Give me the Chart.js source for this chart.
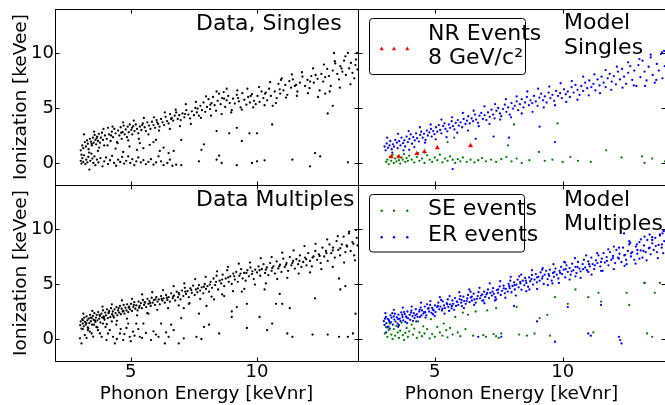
<!DOCTYPE html>
<html>
<head>
<meta charset="utf-8">
<script src="https://cdn.jsdelivr.net/npm/chart.js@4.4.1/dist/chart.umd.min.js"></script>
<style>
  body { margin: 0; background: #fff; width: 665px; height: 405px; overflow: hidden; position: relative; }
  canvas { position: absolute; }
</style>
</head>
<body>
<canvas id="c1" width="359" height="186" style="left:0px;top:0px"></canvas>
<canvas id="c2" width="311" height="186" style="left:354px;top:0px"></canvas>
<canvas id="c3" width="359" height="221" style="left:0px;top:184px"></canvas>
<canvas id="c4" width="311" height="221" style="left:354px;top:184px"></canvas>
<script>
// axes
const xTickVals = [5, 10];
const yTickVals = [0, 5, 10];
const xRange = [2, 14];
const yRange = [-2, 14];
const xTitle = 'Phonon Energy [keVnr]';
const yTitle = 'Ionization [keVee]';

// Data, Singles (black)
const dataSingles = [
  [3.02,1.15],[3.05,0.75],[3.08,1.6],[3.12,1.35],[3.18,1.9],[3.22,1.5],[3.27,2.05],[3.3,1.75],[3.33,1.25],[3.38,2.2],
  [3.42,1.95],[3.46,1.6],[3.5,2.3],[3.53,1.85],[3.57,2.55],[3.6,2.1],[3.63,1.7],[3.67,2.4],[3.7,2.0],[3.74,2.65],
  [3.78,1.85],[3.82,2.3],[3.86,2.75],[3.9,2.1],[3.95,1.6],[3.98,2.5],[4.05,2.2],[4.1,3.2],[4.14,2.6],[4.2,2.0],
  [4.25,2.85],[4.3,2.35],[4.35,3.1],[4.4,2.7],[4.45,1.9],[4.5,2.95],[4.55,2.5],[4.6,3.25],[4.64,2.2],[4.68,2.8],
  [4.72,3.4],[4.76,2.6],[4.8,3.05],[4.85,2.35],[4.88,3.3],[4.92,2.8],[4.96,3.5],[5.02,3.0],[5.06,2.6],[5.1,3.35],
  [5.15,2.9],[5.2,3.5],[5.25,3.1],[5.3,2.7],[5.36,3.3],[5.42,3.0],[5.48,3.6],[5.55,3.25],[5.6,2.9],[5.66,3.7],
  [5.72,3.4],[5.78,3.1],[5.84,3.75],[5.9,3.45],[5.96,3.2],[6.02,3.9],[6.08,3.55],[6.14,3.3],[6.2,4.0],[6.26,3.7],
  [6.32,3.45],[6.38,4.2],[6.44,3.8],[6.5,3.6],[6.56,4.45],[6.62,4.1],[6.68,3.85],[6.74,4.3],[6.8,4.6],[6.86,4.0],
  [6.92,4.35],[6.98,3.9],[7.05,4.5],[7.12,4.15],[7.2,4.8],[7.28,4.4],[7.35,4.05],[7.42,4.7],[7.5,4.35],[7.56,5.0],
  [7.62,4.6],[7.7,4.3],[7.76,5.2],[7.82,4.8],[7.88,5.5],[7.95,4.65],[8.02,5.1],[8.08,5.8],[8.14,4.9],[8.2,5.45],
  [8.26,6.0],[8.32,5.25],[8.38,4.75],[8.44,5.65],[8.5,6.3],[8.56,5.35],[8.62,5.9],[8.68,6.45],[8.74,5.1],[8.8,5.7],
  [8.86,6.1],[8.92,5.45],[8.98,4.6],[9.05,5.85],[9.12,5.4],[9.2,6.2],[9.28,5.6],[9.35,5.05],[9.42,6.35],[9.5,5.75],
  [9.58,5.3],[9.65,6.0],[9.72,5.5],[9.8,6.25],[9.88,5.65],[9.95,5.35],[10.02,6.1],[10.1,5.55],[10.18,6.5],[10.25,5.9],
  [10.32,6.3],[10.4,5.7],[10.48,6.75],[10.55,6.1],[10.62,5.2],[10.7,6.5],[10.78,5.9],[10.85,7.2],[10.92,6.3],[10.98,7.7],
  [11.05,6.6],[11.12,7.1],[11.2,6.2],[11.28,7.45],[11.35,6.85],[11.42,7.6],[11.5,7.0],[11.6,6.5],[11.7,7.3],[11.8,7.85],
  [11.9,7.0],[12.0,7.55],[12.08,6.8],[12.15,7.9],[12.25,7.3],[12.32,8.0],[12.4,7.65],[12.48,6.6],[12.55,8.1],[12.62,7.4],
  [12.7,6.3],[12.78,8.55],[12.85,7.9],[12.92,7.0],[13.0,8.4],[13.05,10.0],[13.1,9.05],[13.18,8.1],[13.25,7.6],[13.3,8.8],
  [13.38,8.3],[13.45,9.3],[13.52,8.0],[13.6,10.0],[13.65,8.6],[13.72,9.1],[13.78,8.2],[13.85,7.7],[13.9,8.9],[13.96,10.0],
  [13.98,8.5],
  [3.15,2.6],[3.35,0.95],[3.55,2.85],[3.75,1.4],[3.92,3.1],[4.08,1.6],[4.28,3.3],[4.48,1.8],[4.7,3.7],[4.9,2.05],
  [5.12,3.85],[5.32,2.2],[5.52,4.1],[5.7,2.6],[5.92,4.15],[6.12,2.95],[6.35,4.6],[6.55,3.1],[6.78,4.85],[6.95,3.35],
  [7.18,5.35],[7.38,3.55],[7.58,5.55],[7.78,4.1],[7.98,6.05],[8.18,4.3],[8.4,6.5],[8.6,4.45],[8.8,6.75],[9.0,4.8],
  [9.22,6.6],[9.4,4.85],[9.62,6.75],[9.85,5.05],[10.08,6.9],[10.3,5.25],[10.52,7.35],[10.75,5.45],[10.95,7.55],[11.15,5.95],
  [11.38,8.05],[11.58,6.1],[11.78,8.25],[12.02,6.35],[12.22,8.6],[12.42,6.0],[12.65,8.95],[12.88,6.5],[13.08,9.25],[13.28,6.85],
  [13.5,9.7],[13.7,7.15],[13.92,9.4],
  [3.45,1.75],[3.65,2.25],[4.22,2.5],[4.62,2.75],[5.05,3.2],[5.45,3.45],[6.05,3.7],[6.6,4.0],[7.15,4.45],[7.65,4.95],
  [8.15,5.3],[8.7,5.85],[9.25,5.9],[9.75,6.1],[10.35,6.4],[10.9,6.7],[11.55,7.1],[12.1,7.4],[12.7,7.8],[13.35,8.6],
  [3.02,0.2],[3.05,-0.05],[3.08,0.45],[3.12,0.1],[3.15,0.7],[3.2,-0.1],[3.24,0.3],[3.28,0.05],[3.32,0.55],[3.36,-0.6],
  [3.4,0.2],[3.44,0.85],[3.48,0.4],[3.52,0.0],[3.56,0.6],[3.6,-0.2],[3.66,0.3],[3.72,0.05],[3.8,0.45],[3.88,-0.3],
  [3.95,0.15],[4.02,0.5],[4.1,-0.1],[4.18,0.25],[4.26,0.65],[4.34,0.0],[4.42,-0.25],[4.5,0.3],[4.58,0.1],[4.66,0.55],
  [4.74,-0.05],[4.82,0.2],[4.9,0.6],[4.98,0.0],[5.06,0.35],[5.14,-0.2],[5.22,0.15],[5.3,0.5],[5.4,0.05],[5.5,0.25],
  [5.6,-0.1],[5.7,0.1],[5.8,0.35],[5.9,-0.15],[6.0,0.05],[6.1,0.6],[6.2,0.15],[6.3,-0.2],[6.45,0.0],[6.55,0.3],
  [6.65,-0.25],[6.8,-0.15],[7.0,-0.2],
  [7.7,0.15],[8.4,0.3],[8.5,0.67],[8.6,0.0],[9.2,-0.2],[9.8,0.0],[10.0,0.15],[10.3,0.24],[11.4,0.3],[12.1,-0.3],
  [12.3,0.9],[12.5,0.6],[13.6,0.06],
  [4.95,1.5],[5.25,1.2],[5.36,1.8],[5.5,1.35],[5.75,1.65],[6.0,2.1],[6.15,1.1],[6.3,1.4],[6.5,0.9],[6.7,1.1],
  [7.0,2.1],[7.8,1.2],[7.9,1.7],[8.4,2.9],[8.9,2.7],[9.2,3.2],[9.4,2.0],[9.7,2.7],[10.0,2.7],[10.6,3.5],
  [12.8,4.5],[13.0,5.2],[4.4,1.3],[4.7,1.0],[3.7,1.1],[5.9,1.9]
];

// Data Multiples (black)
const dataMultiples = [
  [3.0,1.25],[3.02,1.6],[3.05,0.95],[3.08,1.8],[3.1,1.4],[3.14,1.15],[3.16,1.95],[3.19,1.55],[3.22,1.3],[3.25,2.05],
  [3.28,1.7],[3.3,1.05],[3.33,1.85],[3.36,1.45],[3.39,2.2],[3.42,1.62],[3.45,1.9],[3.47,1.3],[3.5,2.1],[3.53,1.75],
  [3.56,2.35],[3.6,1.55],[3.62,1.95],[3.65,2.2],[3.68,1.7],[3.71,2.45],[3.75,1.85],[3.78,2.1],[3.8,1.5],[3.84,2.3],
  [3.87,1.95],[3.9,2.6],[3.93,2.05],[3.96,1.75],[3.99,2.4],[4.02,2.15],[4.06,2.7],[4.09,1.9],[4.12,2.35],[4.15,2.55],
  [4.19,2.0],[4.22,2.8],[4.26,2.25],[4.29,2.5],[4.33,1.95],[4.36,2.7],[4.4,2.35],[4.43,2.9],[4.47,2.15],[4.5,2.6],
  [4.54,2.4],[4.57,3.0],[4.61,2.25],[4.64,2.75],[4.68,2.5],[4.72,3.1],[4.75,2.3],[4.79,2.85],[4.83,2.6],[4.86,3.15],
  [4.9,2.45],[4.94,2.95],[4.97,2.7],[5.01,3.2],[5.05,2.55],[5.1,2.9],[5.14,3.35],[5.18,2.75],[5.22,3.05],[5.27,2.6],
  [5.31,3.4],[5.35,3.0],[5.4,3.25],[5.44,2.8],[5.48,3.55],[5.53,3.1],[5.57,3.3],[5.61,2.9],[5.66,3.65],[5.7,3.2],
  [5.74,3.45],[5.79,3.0],[5.83,3.75],[5.87,3.3],[5.92,3.55],[5.96,3.1],[6.01,3.8],[6.06,3.4],[6.11,3.6],[6.15,3.15],
  [6.2,3.9],[6.25,3.5],[6.3,3.7],[6.35,3.3],[6.4,4.0],[6.45,3.55],[6.5,3.8],[6.55,3.4],[6.6,4.15],[6.66,3.7],
  [6.71,3.95],[6.76,3.5],[6.82,4.3],[6.87,3.8],[6.92,4.05],[6.97,3.6],[7.03,4.4],[7.08,3.9],[7.14,4.65],[7.19,4.1],
  [7.25,4.35],[7.3,3.8],[7.36,4.6],[7.42,4.2],[7.47,4.85],[7.53,4.0],[7.58,4.5],[7.64,4.25],[7.7,4.9],[7.75,4.4],
  [7.81,4.7],[7.87,4.15],[7.93,5.0],[7.98,4.55],[8.04,4.8],[8.1,4.3],[8.16,5.2],[8.22,4.65],[8.28,5.5],[8.34,4.9],
  [8.4,5.75],[8.46,4.5],[8.52,5.3],[8.58,5.05],[8.64,5.85],[8.7,4.8],[8.76,5.5],[8.82,6.25],[8.88,5.2],[8.94,5.7],
  [9.0,5.0],[9.06,5.95],[9.12,5.4],[9.18,6.1],[9.24,5.2],[9.3,5.75],[9.37,6.35],[9.43,5.5],[9.49,6.0],[9.55,5.3],
  [9.62,6.25],[9.68,5.7],[9.74,6.5],[9.8,5.9],[9.87,5.45],[9.93,6.3],[10.0,6.05],[10.06,6.6],[10.13,5.75],[10.19,6.35],
  [10.26,6.8],[10.32,6.0],[10.39,6.5],[10.45,5.8],[10.52,6.9],[10.58,6.2],[10.65,6.6],[10.71,5.95],[10.78,7.05],[10.84,6.4],
  [10.91,6.75],[10.97,6.1],[11.04,7.3],[11.1,6.55],[11.17,6.9],[11.23,6.2],[11.3,7.45],[11.36,6.7],[11.43,7.1],[11.5,6.4],
  [11.56,7.25],[11.63,6.8],[11.7,7.6],[11.76,6.55],[11.83,7.0],[11.9,7.4],[11.96,6.7],[12.03,7.8],[12.1,7.1],[12.17,6.6],
  [12.24,7.5],[12.31,8.0],[12.38,7.2],[12.45,7.7],[12.52,6.9],[12.59,8.3],[12.66,7.5],[12.73,8.0],[12.8,7.1],[12.87,8.6],
  [12.94,7.8],[13.01,8.3],[13.08,7.4],[13.15,8.9],[13.22,8.1],[13.29,7.6],[13.36,8.6],[13.43,9.3],[13.5,7.9],[13.57,8.4],
  [13.64,9.6],[13.71,8.0],[13.78,8.8],[13.85,7.6],[13.92,9.9],[13.98,8.5],[13.95,9.2],
  [3.12,2.3],[3.3,0.8],[3.48,2.55],[3.68,1.05],[3.88,2.95],[4.05,1.35],[4.25,3.15],[4.45,1.65],[4.65,3.5],[4.85,1.85],
  [5.05,3.65],[5.25,2.15],[5.45,4.05],[5.65,2.35],[5.85,4.25],[6.05,2.65],[6.28,4.45],[6.48,2.8],[6.7,4.8],[6.9,3.05],
  [7.12,5.05],[7.33,3.25],[7.55,5.45],[7.75,3.65],[7.97,5.65],[8.2,3.85],[8.42,6.15],[8.62,4.05],[8.85,6.55],[9.05,4.35],
  [9.28,6.85],[9.5,4.55],[9.72,6.95],[9.92,4.95],[10.15,7.35],[10.35,5.05],[10.58,7.45],[10.8,5.45],[11.0,7.85],[11.2,5.55],
  [11.45,8.05],[11.65,5.95],[11.88,8.45],[12.1,6.05],[12.32,8.65],[12.55,6.35],[12.78,9.05],[13.0,6.55],[13.2,9.35],[13.45,6.95],
  [13.65,9.75],[13.88,7.15],
  [3.11,1.7],[3.24,1.45],[3.41,1.95],[3.58,1.7],[3.76,2.2],[3.94,1.9],[4.13,2.45],[4.31,2.1],[4.52,2.8],[4.71,2.55],
  [4.92,2.85],[5.12,3.1],[5.33,2.85],[5.55,3.35],[5.77,3.25],[5.98,3.6],[6.22,3.65],[6.43,3.75],[6.68,3.85],[6.9,4.2],
  [7.16,4.3],[7.4,4.45],[7.66,4.6],[7.9,4.75],[8.13,4.95],[8.38,5.2],[8.62,5.4],[8.86,5.6],[9.1,5.7],[9.35,5.95],
  [9.58,6.0],[9.82,6.15],[10.1,6.25],[10.35,6.3],[10.6,6.45],[10.88,6.6],[11.15,6.75],[11.4,6.9],[11.68,7.1],[11.95,7.25],
  [12.2,7.4],[12.48,7.55],[12.75,7.8],[13.0,8.05],[13.3,8.25],[13.55,8.5],[13.82,8.65],
  [2.99,0.06],[3.05,-0.4],[3.18,0.36],[3.32,0.97],[3.38,0.67],[3.51,0.21],[3.64,1.1],[3.78,0.5],[3.9,1.4],[4.04,-0.1],
  [4.17,0.8],[4.3,0.2],[4.37,-0.4],[4.43,1.3],[4.57,0.5],[4.7,-0.1],[4.83,1.0],[4.96,0.2],[5.09,0.67],[5.22,1.4],
  [5.36,0.2],[3.1,0.9],[3.25,0.1],[3.45,0.5],[3.55,1.3],[3.7,0.8],[3.85,0.2],[4.0,1.1],[4.1,0.5],[4.25,1.6],
  [4.45,0.0],[4.6,0.9],[4.75,0.45],[4.9,1.4],[5.0,-0.2],[5.15,0.3],[5.3,0.9],[5.45,0.1],[5.6,0.55],[5.8,-0.1],
  [6.1,0.2],[6.4,0.6],
  [5.5,1.4],[5.7,2.3],[5.9,0.7],[6.0,0.4],[6.2,1.4],[6.35,-0.4],[6.5,0.2],[6.6,1.3],[6.9,-0.4],[6.7,0.8],
  [7.1,0.06],[7.6,0.2],[7.8,0.0],[7.0,1.9],[7.1,2.8],[7.7,2.3],[7.9,1.1],[8.1,1.3],[8.5,0.5],[9.0,2.0],
  [9.0,2.5],[9.2,2.9],[9.6,3.2],[9.6,1.0],[10.1,2.0],[10.4,0.8],[10.6,1.4],[10.75,3.2],[11.0,3.2],[11.2,0.5],
  [11.3,2.8],[11.4,0.2],[12.2,0.4],[12.3,3.7],[12.8,0.4],[13.25,5.5],[13.25,0.2],[13.3,4.5],[13.5,4.8],[13.8,0.5],
  [13.9,2.3],[13.6,0.2],[7.3,3.2],[8.3,3.6],[8.7,3.9],[9.4,4.3],[8.0,3.0],[10.3,4.5],[10.9,4.1]
];

// Model Singles
const singlesER = [
  [3.04,1.5],[3.08,1.15],[3.12,1.78],[3.17,1.38],[3.23,1.6],[3.26,2.0],[3.32,1.25],[3.37,1.7],[3.41,1.48],[3.46,2.1],
  [3.52,1.85],[3.55,1.35],[3.61,1.98],[3.66,1.6],[3.7,2.3],[3.76,1.8],[3.81,2.05],[3.84,1.5],[3.9,2.4],[3.95,1.9],
  [4.01,2.18],[4.06,2.6],[4.11,1.75],[4.16,2.35],[4.22,2.05],[4.27,2.7],[4.31,2.25],[4.38,1.95],[4.43,2.55],[4.47,2.85],
  [4.53,2.3],[4.58,2.65],[4.64,2.1],[4.69,2.95],[4.73,2.5],[4.79,2.78],[4.85,3.1],[4.88,2.4],[4.94,2.9],[4.99,2.62],
  [5.05,3.25],[5.1,2.85],[5.16,3.45],[5.21,3.0],[5.26,2.7],[5.33,3.35],[5.38,3.6],[5.42,3.1],[5.49,2.88],[5.55,3.5],
  [5.6,3.2],[5.66,3.8],[5.71,3.35],[5.77,3.05],[5.82,3.65],[5.9,3.9],[5.94,3.4],[6.01,3.7],[6.07,3.25],[6.13,4.0],
  [6.2,3.55],[6.26,3.85],[6.31,4.25],[6.37,3.6],[6.44,4.05],[6.5,3.8],[6.57,4.4],[6.62,3.95],[6.69,3.65],[6.75,4.3],
  [6.82,4.55],[6.88,4.0],[6.95,4.35],[7.02,3.9],[7.08,4.6],[7.15,4.2],[7.22,4.85],[7.28,4.4],[7.34,4.05],[7.41,4.75],
  [7.48,5.0],[7.55,4.5],[7.6,4.25],[7.67,4.9],[7.74,5.3],[7.8,4.65],[7.87,5.05],[7.93,4.4],[8.0,5.45],[8.06,4.95],
  [8.13,5.2],[8.2,5.6],[8.26,4.8],[8.33,5.35],[8.4,5.8],[8.47,5.05],[8.53,5.5],[8.6,6.0],[8.68,5.25],[8.74,5.7],
  [8.81,5.45],[8.88,6.1],[8.95,5.6],[9.02,5.2],[9.09,5.95],[9.16,6.3],[9.23,5.7],[9.3,6.05],[9.37,5.5],[9.45,6.4],
  [9.52,5.9],[9.6,6.2],[9.67,5.65],[9.74,6.55],[9.82,6.1],[9.9,6.35],[9.97,5.9],[10.05,6.7],[10.12,6.25],[10.2,6.5],
  [10.28,6.0],[10.35,6.9],[10.43,6.4],[10.5,7.1],[10.58,6.65],[10.66,6.2],[10.73,7.0],[10.8,6.55],[10.88,7.3],[10.96,6.8],
  [11.04,7.5],[11.12,6.9],[11.2,7.2],[11.28,6.6],[11.36,7.6],[11.44,7.05],[11.52,7.85],[11.6,7.3],[11.68,6.9],[11.76,7.7],
  [11.84,8.1],[11.92,7.4],[12.0,7.9],[12.08,7.15],[12.16,8.3],[12.24,7.6],[12.32,8.55],[12.4,7.85],[12.48,7.2],[12.56,8.2],
  [12.64,8.8],[12.72,7.55],[12.8,8.4],[12.88,7.0],[12.96,8.9],[13.04,7.8],[13.12,9.3],[13.2,8.3],[13.28,7.5],[13.36,8.75],
  [13.44,9.6],[13.52,8.0],[13.6,7.3],[13.68,9.0],[13.76,8.4],[13.84,9.9],[13.9,7.7],[13.96,10.2],[13.99,8.8],
  [3.14,2.3],[3.34,0.95],[3.56,2.65],[3.78,1.15],[3.98,2.9],[4.2,1.45],[4.42,3.25],[4.62,1.85],[4.84,3.5],[5.04,2.15],
  [5.26,3.95],[5.46,2.35],[5.68,4.15],[5.88,2.75],[6.1,4.55],[6.3,2.95],[6.52,4.75],[6.72,3.35],[6.94,5.15],[7.14,3.55],
  [7.36,5.35],[7.56,3.95],[7.78,5.8],[7.98,4.15],[8.2,6.05],[8.4,4.5],[8.62,6.5],[8.82,4.65],[9.04,6.75],[9.26,5.05],
  [9.48,6.95],[9.7,5.25],[9.92,7.25],[10.14,5.55],[10.36,7.45],[10.58,5.75],[10.8,7.85],[11.02,6.15],[11.24,8.05],[11.46,6.35],
  [11.68,8.45],[11.9,6.65],[12.12,8.75],[12.34,6.85],[12.56,9.15],[12.78,7.05],[13.0,9.45],[13.22,7.0],[13.44,9.85],[13.66,7.55],
  [13.88,10.05],
  [5.7,-0.55],[7.3,2.4],[7.9,2.3],[9.1,3.3],[9.7,1.9],[4.0,1.2],[6.6,2.2]
];
const singlesSE = [
  [3.1,0.1],[3.15,0.3],[3.2,-0.1],[3.25,0.55],[3.3,0.2],[3.35,0.75],[3.4,0.0],[3.45,0.4],[3.5,0.15],[3.55,0.6],
  [3.6,0.25],[3.65,-0.05],[3.7,0.5],[3.75,0.3],[3.8,0.8],[3.85,0.1],[3.9,0.45],[3.95,0.2],[4.0,0.65],[4.1,0.3],
  [4.2,0.05],[4.3,0.55],[4.35,0.9],[4.4,0.2],[4.5,0.4],[4.6,0.0],[4.7,0.7],[4.8,0.3],[4.9,0.1],[5.0,0.5],
  [5.1,0.25],[5.2,0.75],[5.3,0.05],[5.4,0.4],[5.5,0.2],[5.6,0.6],[5.7,0.3],[5.8,0.0],[5.9,0.35],[6.0,0.15],
  [6.1,0.5],[6.25,0.1],[6.4,0.3],[6.55,0.05],[6.7,0.25],[6.85,0.45],[7.0,0.15],[7.2,0.3],[7.4,0.1],[7.6,0.35],
  [7.8,0.55],[8.0,0.15],[8.2,0.4],[8.4,0.0],[8.7,0.25],[9.07,1.0],[9.3,0.2],[9.6,0.3],[10.0,0.1],[10.3,0.55],
  [10.6,0.2],[11.1,0.1],[11.7,1.15],[12.3,0.5],[13.1,0.6],[13.2,0.0],[13.5,0.4],[14.0,0.15],
  [5.76,2.3],[8.1,3.5],[9.8,3.6],[7.86,1.6],[5.5,1.9],[4.6,0.95]
];
const singlesNR = [[3.3,0.57],[3.6,0.57],[4.3,0.85],[4.6,1.03],[5.1,1.39],[6.4,1.57]];

// Model Multiples
const multiplesER = [
  [3.01,1.62],[3.04,1.28],[3.09,2.01],[3.11,1.45],[3.16,1.83],[3.19,1.12],[3.21,1.71],[3.27,2.15],[3.29,1.52],[3.31,1.94],
  [3.36,1.3],[3.42,1.77],[3.44,2.3],[3.47,1.58],[3.52,1.96],[3.55,1.4],[3.58,2.21],[3.63,1.85],[3.66,1.62],[3.69,2.42],
  [3.74,1.98],[3.77,1.7],[3.83,2.27],[3.85,1.55],[3.88,2.05],[3.93,2.5],[3.96,1.88],[4.02,2.2],[4.04,1.74],[4.09,2.58],
  [4.13,2.08],[4.18,2.35],[4.21,1.9],[4.26,2.71],[4.3,2.25],[4.33,2.02],[4.39,2.49],[4.45,2.86],[4.48,2.14],[4.5,2.6],
  [4.56,2.31],[4.61,2.95],[4.63,2.43],[4.67,2.15],[4.74,2.75],[4.78,2.5],[4.82,3.1],[4.87,2.38],[4.9,2.82],[4.96,2.6],
  [5.01,3.05],[5.03,2.45],[5.09,2.9],[5.14,3.3],[5.17,2.7],[5.22,2.95],[5.28,2.58],[5.31,3.42],[5.36,3.05],[5.4,2.8],
  [5.47,3.25],[5.51,3.6],[5.53,2.92],[5.6,3.15],[5.66,2.78],[5.69,3.5],[5.72,3.2],[5.79,3.72],[5.83,3.0],[5.88,3.38],
  [5.92,3.1],[5.97,3.62],[6.03,3.3],[6.06,2.98],[6.12,3.85],[6.15,3.45],[6.21,3.2],[6.27,3.68],[6.3,4.0],[6.36,3.35],
  [6.41,3.78],[6.45,3.5],[6.52,4.12],[6.55,3.6],[6.6,3.3],[6.68,3.9],[6.71,4.25],[6.77,3.7],[6.81,3.95],[6.86,3.48],
  [6.93,4.3],[6.97,3.82],[7.02,4.05],[7.08,4.5],[7.12,3.72],[7.17,4.2],[7.23,3.95],[7.28,4.62],[7.31,4.1],[7.37,3.8],
  [7.43,4.45],[7.47,4.2],[7.54,4.78],[7.58,4.0],[7.63,4.38],[7.69,4.85],[7.74,4.15],[7.78,4.55],[7.85,4.3],[7.89,5.0],
  [7.93,4.62],[8.0,4.25],[8.04,4.82],[8.1,5.15],[8.13,4.5],[8.19,4.95],[8.24,5.4],[8.28,4.7],[8.35,5.05],[8.39,4.48],
  [8.44,5.3],[8.5,4.88],[8.53,5.55],[8.58,5.1],[8.65,4.75],[8.69,5.6],[8.73,5.25],[8.8,5.82],[8.84,4.95],[8.9,5.4],
  [8.95,5.9],[8.99,5.15],[9.05,5.65],[9.1,5.3],[9.14,6.05],[9.2,5.5],[9.26,5.0],[9.3,5.85],[9.35,6.2],[9.41,5.45],
  [9.47,5.75],[9.5,6.3],[9.57,5.3],[9.62,6.0],[9.66,5.65],[9.72,6.4],[9.77,5.85],[9.83,5.5],[9.88,6.2],[9.94,6.55],
  [9.98,5.9],[10.04,6.3],[10.1,5.6],[10.15,6.7],[10.2,6.1],[10.27,6.45],[10.31,5.85],[10.37,6.85],[10.42,6.25],[10.5,6.55],
  [10.54,6.0],[10.6,7.0],[10.66,6.4],[10.7,6.15],[10.78,6.8],[10.83,7.2],[10.88,6.5],[10.95,6.25],[11.0,7.05],[11.06,6.6],
  [11.12,7.4],[11.17,6.8],[11.23,6.35],[11.3,7.15],[11.36,6.9],[11.4,7.6],[11.47,6.6],[11.53,7.3],[11.6,7.8],[11.65,6.95],
  [11.72,7.45],[11.79,6.7],[11.85,7.9],[11.9,7.2],[11.97,7.55],[12.05,6.9],[12.1,8.1],[12.16,7.4],[12.22,7.75],[12.3,7.0],
  [12.36,8.3],[12.41,7.6],[12.48,7.2],[12.55,8.0],[12.6,8.6],[12.67,7.5],[12.72,7.9],[12.8,7.2],[12.86,8.4],[12.92,7.75],
  [13.0,8.8],[13.05,8.05],[13.12,7.4],[13.18,8.5],[13.25,7.9],[13.31,9.0],[13.37,8.25],[13.44,7.7],[13.5,8.7],[13.56,8.1],
  [13.62,9.2],[13.68,7.9],[13.75,8.55],[13.8,9.4],[13.87,8.3],[13.93,7.8],[13.97,8.9],
  [3.14,1.05],[3.34,2.35],[3.6,1.25],[3.8,2.45],[4.15,1.65],[4.42,2.0],[4.7,3.15],[4.93,2.25],[5.25,3.55],[5.56,2.55],
  [6.0,3.9],[6.4,4.3],[6.9,3.5],[7.4,3.6],[7.95,5.3],[8.3,5.7],[8.7,4.5],[9.2,6.3],[9.6,5.05],[10.1,6.95],
  [10.5,5.7],[11.0,6.1],[11.5,6.2],[12.0,8.4],[12.5,6.8],[13.0,7.3],[13.4,9.5],[13.9,9.6],
  [3.07,2.35],[3.24,0.95],[3.4,2.65],[3.57,1.1],[3.75,2.85],[3.92,1.45],[4.1,2.95],[4.28,1.6],[4.46,3.3],[4.64,1.95],
  [4.83,3.45],[5.0,2.1],[5.2,3.8],[5.38,2.3],[5.58,3.9],[5.76,2.65],[5.96,4.25],[6.14,2.8],[6.35,4.5],[6.54,3.1],
  [6.75,4.65],[6.94,3.25],[7.15,5.05],[7.35,3.5],[7.56,5.25],[7.76,3.75],[7.97,5.65],[8.17,3.95],[8.38,5.85],[8.58,4.35],
  [8.8,6.25],[9.0,4.55],[9.22,6.45],[9.42,4.9],[9.64,6.8],[9.85,5.1],[10.06,7.0],[10.27,5.4],[10.48,7.35],[10.7,5.55],
  [10.92,7.6],[11.13,5.85],[11.35,7.8],[11.56,6.2],[11.78,8.15],[12.0,6.35],[12.2,8.3],[12.42,6.65],[12.64,8.75],[12.85,6.85],
  [13.06,9.05],[13.28,7.15],[13.5,9.25],[13.72,7.35],[13.94,9.85],
  [3.05,1.85],[3.23,1.55],[3.4,2.05],[3.57,1.8],[3.73,2.2],[3.9,1.95],[4.07,2.4],[4.24,2.15],[4.41,2.65],[4.58,2.45],
  [4.76,2.8],[4.93,2.65],[5.12,3.0],[5.3,2.75],[5.49,3.15],[5.67,3.0],[5.86,3.4],[6.05,3.55],[6.25,3.45],[6.45,3.85],
  [6.65,3.65],[6.86,4.05],[7.05,4.2],[7.26,4.3],[7.48,4.5],[7.7,4.6],[7.91,4.8],[8.12,4.9],[8.34,5.2],[8.56,5.3],
  [8.78,5.45],[9.0,5.6],[9.22,5.7],[9.45,5.9],[9.68,6.1],[9.9,6.0],[10.12,6.35],[10.35,6.15],[10.58,6.55],[10.8,6.35],
  [11.03,6.8],[11.26,6.7],[11.5,7.0],[11.73,7.1],[11.96,7.35],[12.2,7.3],[12.44,7.65],[12.68,7.8],[12.92,8.1],[13.16,8.0],
  [13.4,8.3],[13.64,8.45],[13.88,8.6],
  [12.4,9.6],[12.6,8.9],[13.2,9.3],[13.5,9.0],[13.8,9.5],[13.95,9.8],[12.9,8.6],
  [3.1,0.6],[6.7,0.2],[7.6,0.2],[9.7,-0.25],[11.0,0.5],[12.2,0.2],[12.3,-0.4],[12.25,-0.1],[10.2,2.9],[11.5,3.1],
  [13.2,5.1],[11.1,0.3],[9.0,1.6],[8.1,3.0]
];
const multiplesSE = [
  [3.05,0.5],[3.1,1.1],[3.15,0.2],[3.2,0.8],[3.25,1.4],[3.3,0.4],[3.35,0.0],[3.4,0.9],[3.45,0.3],[3.5,1.2],
  [3.55,0.6],[3.6,0.1],[3.65,0.75],[3.7,1.5],[3.75,0.35],[3.8,-0.1],[3.85,0.55],[3.9,1.0],[3.95,0.2],[4.0,0.7],
  [4.1,1.3],[4.15,0.4],[4.2,0.95],[4.3,0.1],[4.35,1.6],[4.4,0.6],[4.5,0.25],[4.55,1.15],[4.6,0.5],[4.7,0.9],
  [4.8,0.05],[4.85,1.8],[4.9,0.45],[5.0,0.2],[5.1,1.1],[5.2,0.6],[5.3,0.3],[5.35,1.4],[5.45,0.8],[5.5,0.15],
  [5.6,1.0],[5.7,0.4],[5.8,2.0],[5.9,0.6],[6.0,0.25],[6.1,2.4],[6.2,0.9],[6.3,2.2],[6.5,0.3],[6.6,2.5],
  [6.9,0.35],[7.0,0.2],[7.3,0.45],[7.4,0.25],[7.5,0.1],[7.6,0.5],[7.05,2.6],[7.4,2.8],[8.3,0.4],[8.6,0.3],
  [8.9,0.5],[9.1,1.9],[9.4,2.2],[9.5,0.3],[9.7,3.8],[10.5,4.5],[11.0,3.8],[11.2,0.6],[11.4,4.2],[12.5,4.2],
  [12.6,3.1],[13.2,5.1],[13.3,0.5],[13.5,0.2],[13.6,4.2],[13.8,5.1],[11.5,3.4],[10.2,3.2],[8.2,2.9]
];

const FONT = 'DejaVu Sans';
Chart.defaults.font.family = FONT;
Chart.defaults.color = '#000';

const pts = arr => arr.map(p => ({ x: p[0], y: p[1] }));

function dots(arr, color) {
  return { data: pts(arr), backgroundColor: color, borderWidth: 0, pointRadius: 1.15, pointStyle: 'circle' };
}

// box + inner ticks on all four sides
const framePlugin = {
  id: 'frame',
  afterDatasetsDraw(chart) {
    const { ctx, chartArea: a, scales } = chart;
    const L = Math.round(a.left) + 0.5, R = Math.round(a.right) + 0.5;
    const T = Math.round(a.top) + 0.5, B = Math.round(a.bottom) + 0.5;
    ctx.save();
    ctx.strokeStyle = '#000';
    ctx.lineWidth = 1;
    ctx.strokeRect(L, T, R - L, B - T);
    ctx.beginPath();
    yTickVals.forEach(v => {
      const py = Math.round(scales.y.getPixelForValue(v)) + 0.5;
      ctx.moveTo(L, py); ctx.lineTo(L + 4, py);
      ctx.moveTo(R, py); ctx.lineTo(R - 4, py);
    });
    xTickVals.forEach(v => {
      const px = Math.round(scales.x.getPixelForValue(v)) + 0.5;
      ctx.moveTo(px, B); ctx.lineTo(px, B - 4);
      ctx.moveTo(px, T); ctx.lineTo(px, T + 4);
    });
    ctx.stroke();
    ctx.restore();
  }
};

function marker(ctx, style, x, y, r) {
  ctx.beginPath();
  if (style === 'triangle') {
    ctx.moveTo(x, y - r);
    ctx.lineTo(x + r * 0.866, y + r * 0.5);
    ctx.lineTo(x - r * 0.866, y + r * 0.5);
    ctx.closePath();
  } else {
    ctx.arc(x, y, r, 0, Math.PI * 2);
  }
  ctx.fill();
}

function textPlugin(p) {
  return {
    id: 'panelText',
    afterDraw(chart) {
      const ctx = chart.ctx;
      ctx.save();
      ctx.font = '22px "' + FONT + '"';
      ctx.textAlign = 'left';
      ctx.textBaseline = 'alphabetic';
      ctx.fillStyle = '#000';
      p.title.forEach((t, i) => ctx.fillText(t, p.tx, p.ty + i * p.step));
      if (p.legend) {
        const g = p.legend;
        const x0 = g.box[0], y0 = g.box[1], x1 = g.box[2], y1 = g.box[3], r = 3;
        ctx.beginPath();
        ctx.moveTo(x0 + r, y0);
        ctx.arcTo(x1, y0, x1, y1, r);
        ctx.arcTo(x1, y1, x0, y1, r);
        ctx.arcTo(x0, y1, x0, y0, r);
        ctx.arcTo(x0, y0, x1, y0, r);
        ctx.closePath();
        ctx.fillStyle = '#fff';
        ctx.fill();
        ctx.strokeStyle = '#000';
        ctx.lineWidth = 1;
        ctx.stroke();
        g.items.forEach(it => {
          ctx.fillStyle = it.color;
          g.mx.forEach(mx => marker(ctx, it.style, mx, it.my, it.r));
          ctx.fillStyle = '#000';
          it.text.forEach((t, i) => ctx.fillText(t, g.tx, it.ty + i * 24.3));
        });
      }
      ctx.restore();
    }
  };
}

// fixed box sizes, no label overhang padding so the four plot frames line up
function fixX(h) {
  return s => { s.height = h; s.paddingLeft = 0; s.paddingRight = 0; s.paddingTop = 0; s.paddingBottom = 0; };
}
function fixY(w) {
  return s => { s.width = w; s.paddingLeft = 0; s.paddingRight = 0; s.paddingTop = 0; s.paddingBottom = 0; };
}

function panel(id, datasets, cfg) {
  return new Chart(document.getElementById(id), {
    type: 'scatter',
    data: { datasets },
    options: {
      responsive: false,
      animation: false,
      devicePixelRatio: 1,
      events: [],
      layout: { padding: cfg.pad, autoPadding: false },
      plugins: { legend: { display: false }, tooltip: { enabled: false } },
      scales: {
        x: {
          type: 'linear', min: xRange[0], max: xRange[1],
          afterBuildTicks: s => { s.ticks = xTickVals.map(v => ({ value: v })); },
          afterFit: fixX(cfg.xh),
          grid: { display: false, drawTicks: false },
          border: { display: false },
          ticks: { display: cfg.xLab, padding: 1, font: { size: 18 }, color: '#000' },
          title: { display: cfg.xLab, text: xTitle, font: { size: 18.5 }, color: '#000', padding: { top: 0, bottom: 0 } }
        },
        y: {
          type: 'linear', min: yRange[0], max: yRange[1],
          afterBuildTicks: s => { s.ticks = yTickVals.map(v => ({ value: v })); },
          afterFit: fixY(cfg.yw),
          grid: { display: false, drawTicks: false },
          border: { display: false },
          ticks: { display: cfg.yLab, padding: 1, font: { size: 18 }, color: '#000' },
          title: { display: cfg.yLab, text: yTitle, font: { size: 18.5 }, color: '#000', padding: { top: 10, bottom: 0 } }
        }
      }
    },
    plugins: [framePlugin, textPlugin(cfg.text)]
  });
}

panel('c1', [dots(dataSingles, '#000')], {
  pad: { top: 9, right: 1, bottom: 1, left: 0 }, xh: 0, yw: 55, xLab: false, yLab: true,
  text: { title: ['Data, Singles'], tx: 196, ty: 30, step: 25 }
});

panel('c2', [
  { data: pts(singlesNR), backgroundColor: '#ff0000', borderWidth: 0, pointRadius: 2.9, pointStyle: 'triangle' },
  dots(singlesSE, '#008000'),
  dots(singlesER, '#0000ff')
], {
  pad: { top: 9, right: 0, bottom: 1, left: 0 }, xh: 0, yw: 4, xLab: false, yLab: false,
  text: {
    title: ['Model', 'Singles'], tx: 210, ty: 29.3, step: 25,
    legend: {
      box: [15.5, 18.5, 171.5, 74.5], mx: [27.7, 40, 53.3], tx: 74,
      items: [{ style: 'triangle', color: '#ff0000', r: 2.4, my: 49, text: ['NR Events', '8 GeV/c²'], ty: 40 }]
    }
  }
});

panel('c3', [dots(dataMultiples, '#000')], {
  pad: { top: 1, right: 1, bottom: 0, left: 0 }, xh: 44, yw: 55, xLab: true, yLab: true,
  text: { title: ['Data Multiples'], tx: 196, ty: 22, step: 25 }
});

panel('c4', [
  dots(multiplesSE, '#008000'),
  dots(multiplesER, '#0000ff')
], {
  pad: { top: 1, right: 0, bottom: 0, left: 0 }, xh: 44, yw: 4, xLab: true, yLab: false,
  text: {
    title: ['Model', 'Multiples'], tx: 210, ty: 21.7, step: 24.5,
    legend: {
      box: [15.5, 10.5, 170.5, 68], mx: [27.7, 40, 53.3], tx: 74,
      items: [
        { style: 'circle', color: '#008000', r: 1.2, my: 26.7, text: ['SE events'], ty: 31.3 },
        { style: 'circle', color: '#0000ff', r: 1.2, my: 53.3, text: ['ER events'], ty: 57.3 }
      ]
    }
  }
});
</script>
</body>
</html>
